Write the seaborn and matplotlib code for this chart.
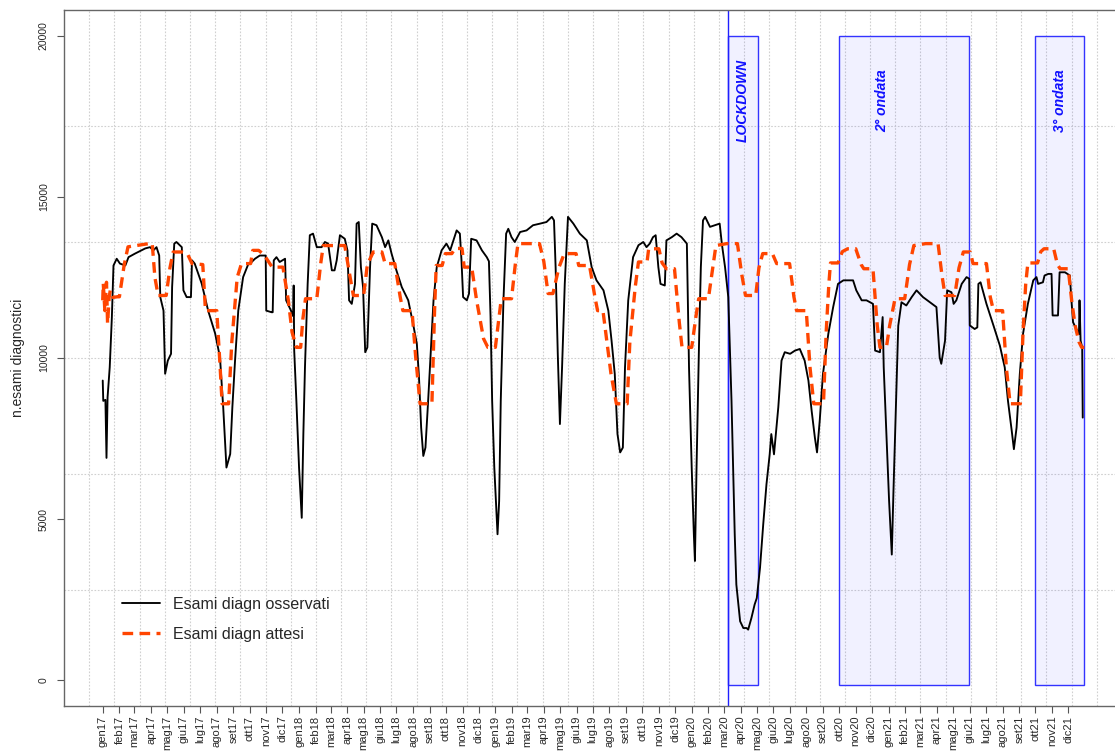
import numpy as np
import pandas as pd
import matplotlib
matplotlib.use("Agg")
import matplotlib.pyplot as plt
import matplotlib.dates as mdates
from matplotlib.patches import Rectangle
import seaborn as sns

sns.set_theme(style="white")
plt.rcParams["font.family"] = ["Liberation Sans", "DejaVu Sans"]

# ---------------- data (days since 2017-01-01) ----------------
START = pd.Timestamp("2017-01-01")

obs_2017_day = [0, 1, 5, 7, 9, 13, 17, 20, 26, 32, 42, 48, 60, 79, 88, 94, 100, 105, 107, 113,
                116, 121, 127, 129, 133, 137, 147, 150, 156, 164, 166, 171, 184, 196, 209, 218, 224, 230, 237, 241,
                246, 252, 261, 271, 277, 283, 292, 303, 304, 314, 316, 318, 323, 329, 339, 341, 350, 354, 355, 356, 360]
obs_2017_val = [9300, 8670, 8700, 6900, 8780, 9710, 11270, 12870, 13080, 12930, 12870, 13130, 13240, 13400, 13440,
                13340, 13440, 13180, 11890, 11470, 9510, 9920, 10130, 12200, 13550, 13600, 13440, 12100, 11890, 11890,
                13030, 12930, 12310, 11470, 10760, 10020, 8470, 6600, 7020, 8470, 9920, 11470, 12510, 12930, 12980,
                13080, 13180, 13180, 11470, 11420, 11420, 13030, 13130, 12980, 13080, 11790, 11470, 11300, 12250, 10230, 8680]

obs_2018_day = [365, 370, 373, 376, 381, 385, 391, 398, 407, 413, 419, 426, 431, 435, 441, 450, 455, 458, 463, 469,
                472, 476, 480, 484, 488, 492, 497, 501, 509, 519, 525, 531, 537, 546, 556, 568, 577, 584, 588, 592,
                596, 600, 605, 610, 615, 621, 630, 639, 646, 652, 658, 664, 667, 670, 677, 681, 685, 695, 705, 714,
                718, 721, 724, 728]
obs_2018_val = [6600, 5040, 7640, 9710, 12300, 13810, 13860, 13440, 13440, 13600, 13550, 12720, 12720, 13030, 13810,
                13700, 13340, 11790, 11680, 12300, 14170, 14220, 12820, 12200, 10180, 10330, 12820, 14170, 14120, 13750,
                13440, 13650, 13240, 12720, 12200, 11790, 11060, 10440, 9400, 7840, 6960, 7220, 8670, 10230, 11790,
                12820, 13340, 13550, 13340, 13650, 13960, 13860, 13030, 11890, 11790, 12000, 13700, 13650, 13340, 13130,
                13000, 11300, 8670, 6600]

obs_2019_day = [734, 737, 740, 745, 750, 754, 760, 766, 776, 788, 800, 813, 825, 835, 839, 842, 846, 850, 854, 859,
                865, 875, 887, 900, 909, 918, 931, 940, 946, 952, 957, 962, 967, 971, 977, 986, 996, 1005, 1011, 1017,
                1023, 1028, 1033, 1037, 1045, 1048, 1058, 1067, 1076, 1086, 1090]
obs_2019_val = [4530, 5560, 8670, 11790, 13860, 14010, 13750, 13600, 13910, 13960, 14120, 14170, 14220, 14380, 14270,
                12820, 10130, 7950, 9710, 12300, 14380, 14170, 13860, 13650, 12820, 12410, 12100, 11470, 10540, 9500,
                7640, 7070, 7220, 9710, 11790, 13130, 13500, 13600, 13440, 13550, 13750, 13810, 12820, 12300, 12250,
                13650, 13750, 13860, 13750, 13550, 9710]

obs_2020_day = [1095, 1099, 1101, 1104, 1109, 1112, 1116, 1120, 1129, 1138, 1147, 1151, 1157, 1163, 1166, 1169, 1172,
                1175, 1178, 1185, 1191, 1197, 1200, 1206, 1212, 1216, 1222, 1228, 1234, 1240, 1243, 1248, 1252, 1256,
                1262, 1268, 1278, 1287, 1296, 1305, 1312, 1318, 1324, 1328, 1333, 1339, 1349, 1358, 1367, 1377, 1395,
                1401, 1411, 1420, 1432, 1436, 1445, 1450, 1452, 1457]
obs_2020_val = [6600, 4530, 3700, 6600, 10760, 12820, 14270, 14380, 14070, 14120, 14170, 13550, 12820, 11890, 10230,
                8670, 6600, 4530, 2970, 1830, 1620, 1620, 1570, 1930, 2350, 2550, 3490, 4840, 6080, 7010, 7640, 7010,
                7740, 8470, 9920, 10180, 10130, 10230, 10280, 9920, 9300, 8360, 7530, 7070, 8050, 9500, 10750, 11580,
                12300, 12410, 12410, 12100, 11790, 11790, 11680, 10230, 10180, 11270, 9710, 7640]

obs_2021_day = [1462, 1467, 1470, 1475, 1479, 1485, 1494, 1504, 1513, 1525, 1538, 1550, 1556, 1559, 1566, 1570, 1578,
                1582, 1587, 1597, 1606, 1611, 1612, 1621, 1626, 1628, 1632, 1643, 1656, 1668, 1677, 1683, 1690, 1694,
                1699, 1705, 1711, 1720, 1730, 1736, 1739, 1748, 1751, 1758, 1764, 1766, 1776, 1779, 1789, 1798, 1801,
                1804, 1810, 1815, 1816, 1818, 1821, 1822]
obs_2021_val = [5560, 3900, 5800, 8670, 11000, 11730, 11630, 11890, 12100, 11890, 11730, 11580, 10020, 9820, 10540,
                12100, 12040, 11680, 11790, 12300, 12510, 12460, 11010, 10900, 10950, 12300, 12350, 11680, 11010, 10380,
                9710, 8670, 7740, 7170, 7840, 9500, 10750, 11680, 12410, 12510, 12300, 12350, 12560, 12610, 12610,
                11320, 11320, 12660, 12660, 12560, 11790, 11110, 10900, 10750, 11790, 10540, 10330, 8150]

exp_2017_day = [0, 1, 4, 7, 9, 12, 14, 19, 27, 31, 40, 47, 82, 92, 97, 103, 118, 125, 131, 147, 157, 166, 186, 191,
                212, 218, 222, 234, 240, 250, 258, 275, 279, 290, 300, 315, 335, 345, 352, 360]
exp_2017_val = [11790, 12310, 11470, 12350, 11070, 11890, 12100, 11880, 11900, 11900, 12900, 13450, 13540, 13560,
                12500, 11940, 11940, 12800, 13290, 13290, 13250, 12930, 12900, 11470, 11470, 9800, 8580, 8580, 10500,
                12500, 12930, 12930, 13340, 13340, 13200, 12820, 12820, 11800, 10800, 10330]

exp_2018_day = [368, 372, 377, 398, 405, 410, 450, 460, 466, 485, 492, 503, 519, 525, 543, 553, 558, 575, 582, 590,
                612, 617, 620, 631, 637, 649, 655, 668, 672, 686, 695, 708, 716]
exp_2018_val = [10330, 11200, 11840, 11840, 12900, 13490, 13490, 12500, 11940, 11940, 12900, 13290, 13290, 12930,
                12930, 11900, 11470, 11470, 10000, 8580, 8580, 11500, 12870, 12870, 13240, 13240, 13400, 13400, 12820,
                12820, 11800, 10600, 10330]

exp_2019_day = [730, 741, 760, 767, 772, 812, 820, 828, 837, 848, 858, 880, 885, 905, 915, 920, 930, 945, 955, 975,
                980, 990, 996, 1012, 1015, 1034, 1040, 1048, 1063, 1072, 1077]
exp_2019_val = [10330, 11840, 11840, 12900, 13550, 13550, 13000, 12000, 12000, 12800, 13240, 13240, 12870, 12870,
                11900, 11470, 11470, 9500, 8580, 8580, 10500, 12200, 12980, 12980, 13390, 13390, 12950, 12770, 12770,
                11100, 10330]

exp_2020_day = [1095, 1103, 1108, 1126, 1135, 1140, 1160, 1180, 1188, 1195, 1214, 1220, 1227, 1245, 1253, 1277, 1285,
                1290, 1308, 1315, 1322, 1340, 1345, 1350, 1353, 1367, 1375, 1385, 1400, 1410, 1415, 1432, 1440, 1445,
                1457]
exp_2020_val = [10330, 11300, 11840, 11840, 12900, 13490, 13550, 13550, 12600, 11940, 11940, 12800, 13240, 13240,
                12930, 12930, 11900, 11470, 11470, 9700, 8580, 8580, 10800, 12300, 12950, 12950, 13300, 13390, 13390,
                12900, 12770, 12770, 11000, 10330, 10330]

exp_2021_day = [1463, 1473, 1491, 1500, 1508, 1530, 1553, 1560, 1566, 1584, 1592, 1600, 1613, 1618, 1643, 1650, 1656,
                1673, 1680, 1687, 1706, 1711, 1716, 1720, 1738, 1744, 1750, 1768, 1775, 1780, 1795, 1802, 1808, 1815,
                1820, 1825]
exp_2021_val = [11000, 11840, 11840, 12900, 13490, 13550, 13550, 12600, 11940, 11940, 12800, 13290, 13290, 12930,
                12930, 11900, 11470, 11470, 9700, 8580, 8580, 10800, 12300, 12950, 12950, 13300, 13390, 13390, 12900,
                12770, 12770, 11700, 11000, 10500, 10330, 10330]

month_names = ["gen", "feb", "mar", "apr", "mag", "giu", "lug", "ago", "set", "ott", "nov", "dic"]
years = ["17", "18", "19", "20", "21"]

periods = [("2020-03-09", "2020-05-03"), ("2020-10-01", "2021-05-31"), ("2021-10-01", "2021-12-31")]
period_labels = ["LOCKDOWN", "2° ondata", "3° ondata"]
period_label_dates = ["2020-04-05", "2020-12-20", "2021-11-15"]
lockdown_start = "2020-03-09"

# ---------------- build frames ----------------
obs_days = obs_2017_day + obs_2018_day + obs_2019_day + obs_2020_day + obs_2021_day
obs_vals = obs_2017_val + obs_2018_val + obs_2019_val + obs_2020_val + obs_2021_val
exp_days = exp_2017_day + exp_2018_day + exp_2019_day + exp_2020_day + exp_2021_day
exp_vals = exp_2017_val + exp_2018_val + exp_2019_val + exp_2020_val + exp_2021_val

df_obs = pd.DataFrame({"data": START + pd.to_timedelta(obs_days, unit="D"), "esami": obs_vals})
df_exp = pd.DataFrame({"data": START + pd.to_timedelta(exp_days, unit="D"), "esami": exp_vals})

# ---------------- figure ----------------
fig = plt.figure(figsize=(11.15, 7.52), dpi=100)
ax = fig.add_axes([64 / 1115, 46 / 752, 1058 / 1115, 696 / 752])

xmin = START - pd.Timedelta(days=72)
xmax = START + pd.Timedelta(days=1895)
ax.set_xlim(mdates.date2num(xmin), mdates.date2num(xmax))
ax.set_ylim(-800, 20800)

# dotted grid (equal cells, R style)
x0, x1 = ax.get_xlim()
for k in range(1, 42):
    ax.axvline(x0 + k * (x1 - x0) / 42, color="#D0D0D0", lw=0.8, ls=(0, (1.5, 1.5)), zorder=0)
for v in np.arange(2800, 20800, 3600):
    ax.axhline(v, color="#D0D0D0", lw=0.8, ls=(0, (1.5, 1.5)), zorder=0)

# shaded periods
for (s, e), lab, ld in zip(periods, period_labels, period_label_dates):
    xs = mdates.date2num(pd.Timestamp(s))
    xe = mdates.date2num(pd.Timestamp(e))
    ax.add_patch(Rectangle((xs, -150), xe - xs, 20150, facecolor=(0, 0, 1, 0.055),
                           edgecolor=(0.2, 0.2, 1, 1), lw=1.0, zorder=1))
    ax.text(mdates.date2num(pd.Timestamp(ld)), 18000, lab, rotation=90, color="#1010FF",
            fontweight="bold", fontstyle="italic", fontsize=10, ha="center", va="center", zorder=5)
ax.axvline(mdates.date2num(pd.Timestamp(lockdown_start)), color="#2020FF", lw=1.0, zorder=1)

# series
sns.lineplot(data=df_obs, x="data", y="esami", color="black", linewidth=1.35, ax=ax,
             label="Esami diagn osservati", estimator=None, sort=False, zorder=3)
sns.lineplot(data=df_exp, x="data", y="esami", color="#FF4500", linewidth=2.4, ax=ax,
             label="Esami diagn attesi", estimator=None, sort=False, zorder=4)
ax.lines[-1].set_dashes([3.2, 1.9])

# axes styling
month_starts = pd.date_range("2017-01-01", "2021-12-01", freq="MS")
ax.set_xticks(mdates.date2num(month_starts))
ax.set_xticklabels([m + y for y in years for m in month_names], rotation=90, fontsize=8)
ax.set_yticks([0, 5000, 10000, 15000, 20000])
ax.set_yticklabels(["0", "5000", "10000", "15000", "20000"], rotation=90, va="center", fontsize=7.5)
ax.tick_params(axis="x", bottom=True, length=5, width=0.8, color="#555555", pad=2)
ax.tick_params(axis="y", left=True, length=5, width=0.8, color="#555555", pad=6)
ax.set_xlabel("")
ax.set_ylabel("n.esami diagnostici", fontsize=10, labelpad=10)
for sp in ax.spines.values():
    sp.set_color("#666666")
    sp.set_linewidth(1.0)

leg = ax.legend(loc="center left", bbox_to_anchor=(0.0548, 0.1243), frameon=False, fontsize=11.5,
                handlelength=2.4, handletextpad=0.8, labelspacing=0.95, borderpad=0, borderaxespad=0)

fig.savefig("out.png", dpi=100)
